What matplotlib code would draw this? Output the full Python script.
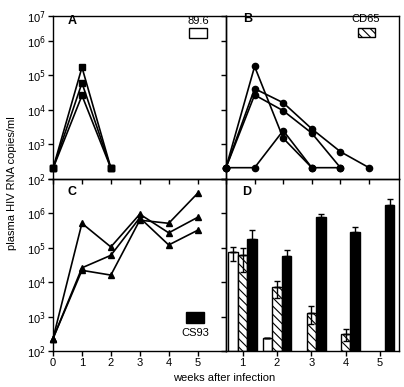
import numpy as np
import matplotlib
matplotlib.use("Agg")
import matplotlib.pyplot as plt
from matplotlib.patches import Rectangle

plt.rcParams['font.family'] = ['Liberation Sans', 'DejaVu Sans']
plt.rcParams['hatch.linewidth'] = 0.8

# ---------------- data ----------------
weeks_a = [0, 1, 2]
a_series = [
    [200, 1.7e5, 200],
    [200, 6.0e4, 200],
    [200, 2.6e4, 200],
]

b_series = [
    ([0, 1, 2, 3], [210, 1.8e5, 1.5e3, 210]),
    ([0, 1, 2, 3, 4, 5], [210, 4.1e4, 1.6e4, 2.8e3, 610, 210]),
    ([0, 1, 2, 3, 4], [210, 2.7e4, 9.4e3, 2.1e3, 210]),
    ([0, 1, 2, 3, 4], [210, 210, 2.5e3, 210, 210]),
]

weeks_c = [0, 1, 2, 3, 4, 5]
c_series = [
    [230, 5.1e5, 1.05e5, 9.4e5, 2.7e5, 7.6e5],
    [230, 2.6e4, 6.0e4, 7.4e5, 1.2e5, 3.2e5],
    [230, 2.2e4, 1.6e4, 6.3e5, 5.1e5, 3.8e6],
]

weeks_d = [1, 2, 3, 4, 5]
d_89 = [7.4e4, 235, np.nan, np.nan, np.nan]
d_89_err = [3.3e4, 0, 0, 0, 0]
d_cd65 = [6.0e4, 7.1e3, 1.3e3, 310, np.nan]
d_cd65_err = [4.0e4, 3.6e3, 700, 120, 0]
d_cs93 = [1.8e5, 5.9e4, 7.8e5, 2.9e5, 1.7e6]
d_cs93_err = [1.5e5, 2.6e4, 1.5e5, 1.2e5, 0.9e6]

legend_labels = ["89.6", "CD65", "CS93"]
panel_letters = ["A", "B", "C", "D"]
y_tick_vals = [1e2, 1e3, 1e4, 1e5, 1e6, 1e7]
y_tick_labels = [r"10$^{2}$", r"10$^{3}$", r"10$^{4}$", r"10$^{5}$", r"10$^{6}$", r"10$^{7}$"]

# ---------------- layout ----------------
W, H = 404, 387
fig = plt.figure(figsize=(W / 100, H / 100), dpi=100)

def fx(px):
    return px / W

def fy(py):
    return 1 - py / H

xl, xm, xr = 53, 226, 398.5
yt, ym, yb = 15.5, 178.8, 351

axA = fig.add_axes([fx(xl), fy(ym), fx(xm - xl), (ym - yt) / H])
axB = fig.add_axes([fx(xm), fy(ym), fx(xr - xm), (ym - yt) / H])
axC = fig.add_axes([fx(xl), fy(yb), fx(xm - xl), (yb - ym) / H])
axD = fig.add_axes([fx(xm), fy(yb), fx(xr - xm), (yb - ym) / H])

top_max = 10 ** (2 + (ym - yt) / 34.5)

for ax in (axA, axB, axC, axD):
    ax.set_yscale('log')
    ax.minorticks_off()
    ax.set_facecolor('none')
    for s in ax.spines.values():
        s.set_linewidth(1.0)
    ax.tick_params(direction='out', length=3.5, width=1.0, labelsize=8, pad=1.5)

for ax in (axA, axB):
    ax.set_ylim(100, top_max)
    ax.set_yticks([1e2, 1e3, 1e4, 1e5, 1e6, top_max])
for ax in (axC, axD):
    ax.set_ylim(100, 1e7)
    ax.set_yticks(y_tick_vals)

axA.set_yticklabels(y_tick_labels)
axC.set_yticklabels(y_tick_labels[:5] + [""])
axB.set_yticklabels([])
axD.set_yticklabels([])

# ---------------- panel A ----------------
for ys in a_series:
    axA.plot(weeks_a, ys, color='black', lw=1.2, marker='s', ms=4.5, clip_on=False)
axA.set_xlim(0, 5.97)
axA.set_xticks([0, 1, 2, 3, 4, 5])
axA.set_xticklabels([])

# ---------------- panel B ----------------
for xs, ys in b_series:
    axB.plot(xs, ys, color='black', lw=1.2, marker='o', ms=4.5, clip_on=False)
axB.set_xlim(0, 6.03)
axB.set_xticks([0, 1, 2, 3, 4, 5])
axB.set_xticklabels([])

# ---------------- panel C ----------------
for ys in c_series:
    axC.plot(weeks_c, ys, color='black', lw=1.2, marker='^', ms=5, clip_on=False)
axC.set_xlim(0, 5.98)
axC.set_xticks([0, 1, 2, 3, 4, 5])

# ---------------- panel D ----------------
bw = 0.28
xd = np.array(weeks_d, dtype=float)
ekw = dict(ecolor='black', elinewidth=1.0, capsize=2.5, capthick=1.0)
axD.bar(xd - bw, np.array(d_89) - 100, bottom=100, width=bw, color='white',
        edgecolor='black', lw=1.0, yerr=[np.zeros(5), d_89_err], error_kw=ekw)
axD.errorbar(xd - bw, d_89, yerr=[d_89_err, np.zeros(5)], fmt='none', **ekw)
axD.bar(xd, np.array(d_cd65) - 100, bottom=100, width=bw, color='white',
        edgecolor='black', lw=1.0, hatch='\\\\\\\\', yerr=[np.zeros(5), d_cd65_err],
        error_kw=ekw)
axD.errorbar(xd, d_cd65, yerr=[d_cd65_err, np.zeros(5)], fmt='none', **ekw)
axD.bar(xd + bw, np.array(d_cs93) - 100, bottom=100, width=bw, color='black',
        edgecolor='black', lw=1.0, yerr=[np.zeros(5), d_cs93_err], error_kw=ekw)
axD.set_xlim(0.515, 5.54)
axD.set_xticks(weeks_d)

# ---------------- letters & legend keys ----------------
letter_pos = [(axA, 72, 21), (axB, 248, 19), (axC, 72, 192), (axD, 247, 192)]
for (ax, px, py), lab in zip(letter_pos, panel_letters):
    fig.text(fx(px), fy(py), lab, fontsize=9, fontweight='bold', ha='center', va='center')

fig.text(fx(198), fy(21), legend_labels[0], fontsize=8, ha='center', va='center')
fig.patches.append(Rectangle((fx(189), fy(38)), fx(18), 10 / H, transform=fig.transFigure,
                             facecolor='white', edgecolor='black', lw=1.0, figure=fig))
fig.text(fx(366), fy(19), legend_labels[1], fontsize=8, ha='center', va='center')
fig.patches.append(Rectangle((fx(358), fy(37)), fx(17), 9 / H, transform=fig.transFigure,
                             facecolor='white', edgecolor='black', lw=1.0, hatch='\\\\\\\\',
                             figure=fig))
fig.patches.append(Rectangle((fx(186), fy(323)), fx(18), 11 / H, transform=fig.transFigure,
                             facecolor='black', edgecolor='black', lw=1.0, figure=fig))
fig.text(fx(195), fy(333), legend_labels[2], fontsize=8, ha='center', va='center')

# ---------------- axis labels ----------------
fig.text(fx(12), fy(183), "plasma HIV RNA copies/ml", rotation=90, fontsize=8,
         ha='center', va='center')
fig.text(fx(224), fy(378), "weeks after infection", fontsize=8, ha='center', va='center')

fig.savefig("out.png", dpi=100)
